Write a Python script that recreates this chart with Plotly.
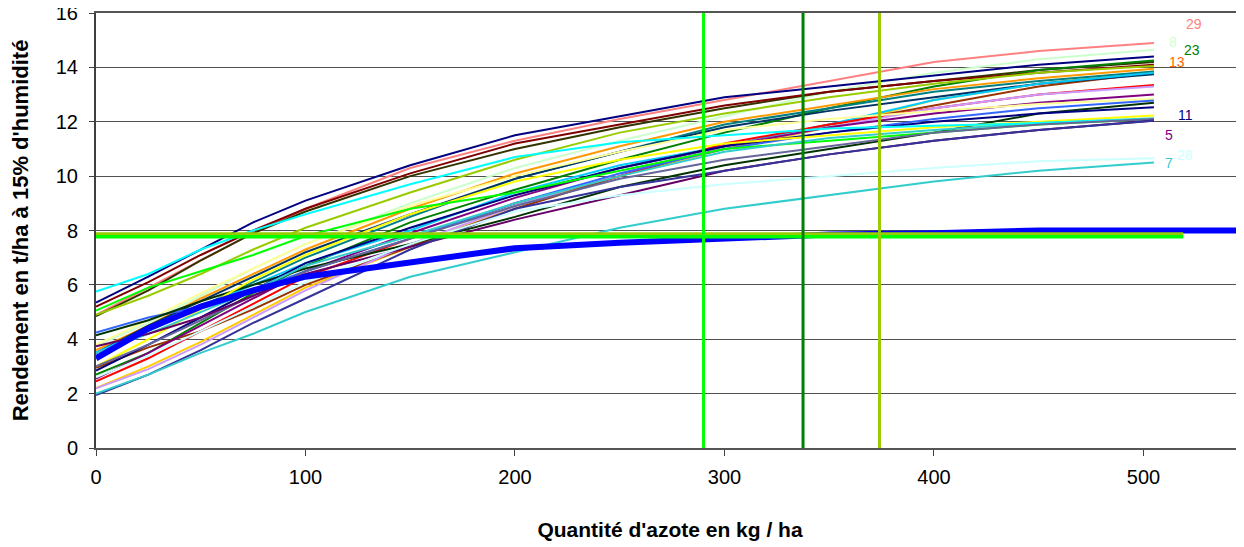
import plotly.graph_objects as go

# Nitrogen doses (kg/ha) at which curves are read
azote = [0, 25, 50, 75, 100, 150, 200, 250, 300, 350, 400, 450, 505]

# yield curves (t/ha) per plot: (colour, values)
courbes = {
    "salmon":   ("#ff8080", [4.9, 5.9, 6.9, 7.9, 8.8, 10.3, 11.3, 12.1, 12.8, 13.5, 14.2, 14.6, 14.9]),
    "vertclair": ("#ccffcc", [3.75, 4.6, 5.6, 6.6, 7.5, 9.0, 10.3, 11.3, 12.2, 13.1, 13.8, 14.3, 14.65]),
    "marine1":  ("#000080", [5.35, 6.3, 7.3, 8.3, 9.1, 10.4, 11.5, 12.2, 12.9, 13.3, 13.7, 14.1, 14.4]),
    "olivenoir": ("#333300", [4.85, 5.8, 6.9, 7.9, 8.7, 10.0, 11.0, 11.8, 12.5, 13.1, 13.5, 13.9, 14.2]),
    "vert":     ("#008000", [2.7, 3.5, 4.6, 5.7, 6.7, 8.3, 9.5, 10.6, 11.6, 12.5, 13.3, 13.9, 14.25]),
    "bordeaux": ("#800000", [5.2, 6.1, 7.1, 8.0, 8.8, 10.1, 11.2, 11.9, 12.6, 13.1, 13.5, 13.8, 14.1]),
    "olive":    ("#99cc00", [4.9, 5.6, 6.4, 7.3, 8.1, 9.4, 10.6, 11.6, 12.3, 12.9, 13.4, 13.8, 14.05]),
    "orange":   ("#ff9900", [3.6, 4.5, 5.5, 6.4, 7.3, 8.8, 10.1, 11.1, 12.0, 12.6, 13.2, 13.6, 13.95]),
    "or":       ("#ffcc00", [2.2, 3.0, 3.9, 4.9, 5.9, 7.4, 8.9, 10.0, 11.0, 11.8, 12.8, 13.4, 13.85]),
    "sarcelle": ("#008080", [3.5, 4.3, 5.2, 6.1, 7.0, 8.5, 9.9, 10.9, 11.9, 12.5, 13.1, 13.5, 13.85]),
    "brun":     ("#993300", [2.95, 3.7, 4.3, 5.1, 6.0, 7.4, 8.8, 10.0, 11.1, 11.9, 12.6, 13.3, 13.8]),
    "bleunuit": ("#003366", [3.5, 4.5, 5.4, 6.3, 7.2, 8.6, 9.9, 10.9, 11.8, 12.4, 12.9, 13.4, 13.75]),
    "ciel":     ("#00ccff", [3.5, 4.4, 5.2, 6.0, 6.8, 8.0, 9.4, 10.4, 11.1, 11.9, 12.8, 13.4, 13.8]),
    "rouge":    ("#ff0000", [2.45, 3.3, 4.3, 5.3, 6.3, 7.7, 9.0, 10.0, 11.2, 11.9, 12.5, 13.0, 13.35]),
    "lavande":  ("#cc99ff", [2.2, 2.9, 3.8, 4.8, 5.8, 7.5, 8.9, 10.1, 11.1, 11.8, 12.5, 13.0, 13.3]),
    "violet":   ("#800080", [2.55, 3.5, 4.5, 5.5, 6.5, 7.9, 9.2, 10.3, 11.1, 11.8, 12.3, 12.7, 13.0]),
    "jaunepale": ("#ffff99", [3.8, 4.7, 5.7, 6.6, 7.5, 8.9, 10.0, 10.9, 11.7, 12.1, 12.4, 12.65, 12.85]),
    "bleuroi":  ("#3366ff", [4.25, 4.8, 5.2, 5.8, 6.5, 7.7, 9.0, 10.1, 11.0, 11.6, 12.1, 12.5, 12.78]),
    "vertnoir": ("#003300", [4.15, 4.7, 5.4, 6.0, 6.6, 7.5, 8.5, 9.6, 10.4, 11.0, 11.6, 12.3, 12.7]),
    "marine2":  ("#000080", [2.85, 3.8, 4.8, 5.8, 6.8, 8.1, 9.3, 10.3, 11.1, 11.6, 12.0, 12.3, 12.53]),
    "jaune":    ("#ffff00", [3.0, 4.0, 5.1, 6.2, 7.1, 8.6, 9.8, 10.6, 11.2, 11.5, 11.8, 12.0, 12.23]),
    "vertvif":  ("#00ff00", [5.05, 5.9, 6.5, 7.1, 7.8, 8.8, 9.4, 10.2, 11.0, 11.3, 11.6, 11.9, 12.1]),
    "turquoise1": ("#33cccc", [3.5, 4.2, 5.0, 5.8, 6.7, 7.8, 9.0, 10.0, 10.9, 11.4, 11.7, 11.95, 12.13]),
    "cyan":     ("#00ffff", [5.75, 6.4, 7.3, 8.0, 8.6, 9.7, 10.7, 11.25, 11.5, 11.75, 11.85, 11.95, 12.1]),
    "grisbleu": ("#666699", [3.0, 3.8, 4.7, 5.6, 6.5, 7.7, 8.9, 9.9, 10.6, 11.1, 11.6, 11.9, 12.1]),
    "prune":    ("#660066", [3.74, 4.2, 4.8, 5.6, 6.4, 7.4, 8.4, 9.3, 10.2, 10.8, 11.3, 11.7, 12.05]),
    "ardoise":  ("#333399", [1.95, 2.7, 3.6, 4.6, 5.5, 7.3, 8.8, 9.6, 10.2, 10.8, 11.3, 11.7, 12.04]),
    "cyanpale": ("#ccffff", [2.6, 3.4, 4.3, 5.2, 6.1, 7.5, 8.7, 9.3, 9.7, 10.0, 10.3, 10.55, 10.66]),
    "turquoise7": ("#33cccc", [2.0, 2.7, 3.5, 4.2, 5.0, 6.3, 7.2, 8.1, 8.8, 9.3, 9.8, 10.2, 10.5]),
}

# mean curve (thick blue)
azote_moy = [0, 25, 50, 75, 100, 150, 200, 250, 300, 350, 400, 450, 500, 545]
rdt_moy = [3.3, 4.4, 5.2, 5.8, 6.3, 6.8, 7.35, 7.55, 7.7, 7.85, 7.9, 8.0, 8.0, 8.0]

# reference lines
hlines = [("#99cc00", 7.87), ("#00ff00", 7.77)]
hline_x = [0, 519]
vlines = [("#00ff00", 290), ("#008000", 337.5), ("#99cc00", 374)]
vline_y = [0, 16]

# plot labels at the right end
etiquettes = ["29", "8", "23", "13", "11", "5", "28", "7"]
etiq_x = [524, 514, 523, 516, 520, 512, 520, 512]
etiq_y = [15.6, 14.95, 14.65, 14.2, 12.25, 11.5, 10.77, 10.5]
etiq_col = ["#ff8080", "#ccffcc", "#008000", "#ff6600", "#000080", "#800080", "#ccffff", "#33cccc"]

fig = go.Figure()

for nom, (col, vals) in courbes.items():
    fig.add_trace(go.Scatter(x=azote, y=vals, mode="lines", name=nom,
                             line=dict(color=col, width=2)))

fig.add_trace(go.Scatter(x=azote_moy, y=rdt_moy, mode="lines",
                         line=dict(color="#0000ff", width=6)))

for col, yv in hlines:
    fig.add_trace(go.Scatter(x=hline_x, y=[yv, yv], mode="lines",
                             line=dict(color=col, width=3.5)))
for col, xv in vlines:
    fig.add_trace(go.Scatter(x=[xv, xv], y=vline_y, mode="lines",
                             line=dict(color=col, width=3)))

for t, xx, yy, c in zip(etiquettes, etiq_x, etiq_y, etiq_col):
    fig.add_annotation(x=xx, y=yy, text=t, showarrow=False,
                       font=dict(color=c, size=14, family="Liberation Sans"))

# page body has an 8px margin, so the figure is 8px smaller on each side
fig.update_layout(
    width=1236, height=539,
    margin=dict(l=88, r=0, t=5, b=99),
    paper_bgcolor="white", plot_bgcolor="white",
    showlegend=False,
    font=dict(family="Liberation Sans, Arial", color="black", size=20),
)

fig.update_xaxes(
    range=[0, 548], tickvals=[0, 100, 200, 300, 400, 500],
    showgrid=False, zeroline=False, automargin=False,
    showline=True, linecolor="#555555", linewidth=2, mirror=True,
    ticks="outside", ticklen=6, tickcolor="#404040",
    tickfont=dict(size=20), ticklabelstandoff=4,
    title=dict(text="<b>Quantité d'azote en kg / ha</b>", font=dict(size=21), standoff=35),
)
fig.update_yaxes(
    range=[0, 16], tickvals=[0, 2, 4, 6, 8, 10, 12, 14, 16],
    showgrid=True, gridcolor="#505050", gridwidth=1, zeroline=False, automargin=False,
    showline=True, linecolor="#404040", linewidth=2,
    ticks="outside", ticklen=5, tickcolor="#404040",
    tickfont=dict(size=20), ticklabelstandoff=7, ticklabeloverflow="allow",
    title=dict(text="<b>Rendement en t/ha à 15% d'humidité</b>", font=dict(size=22), standoff=23),
)

fig.write_html("out.html")
